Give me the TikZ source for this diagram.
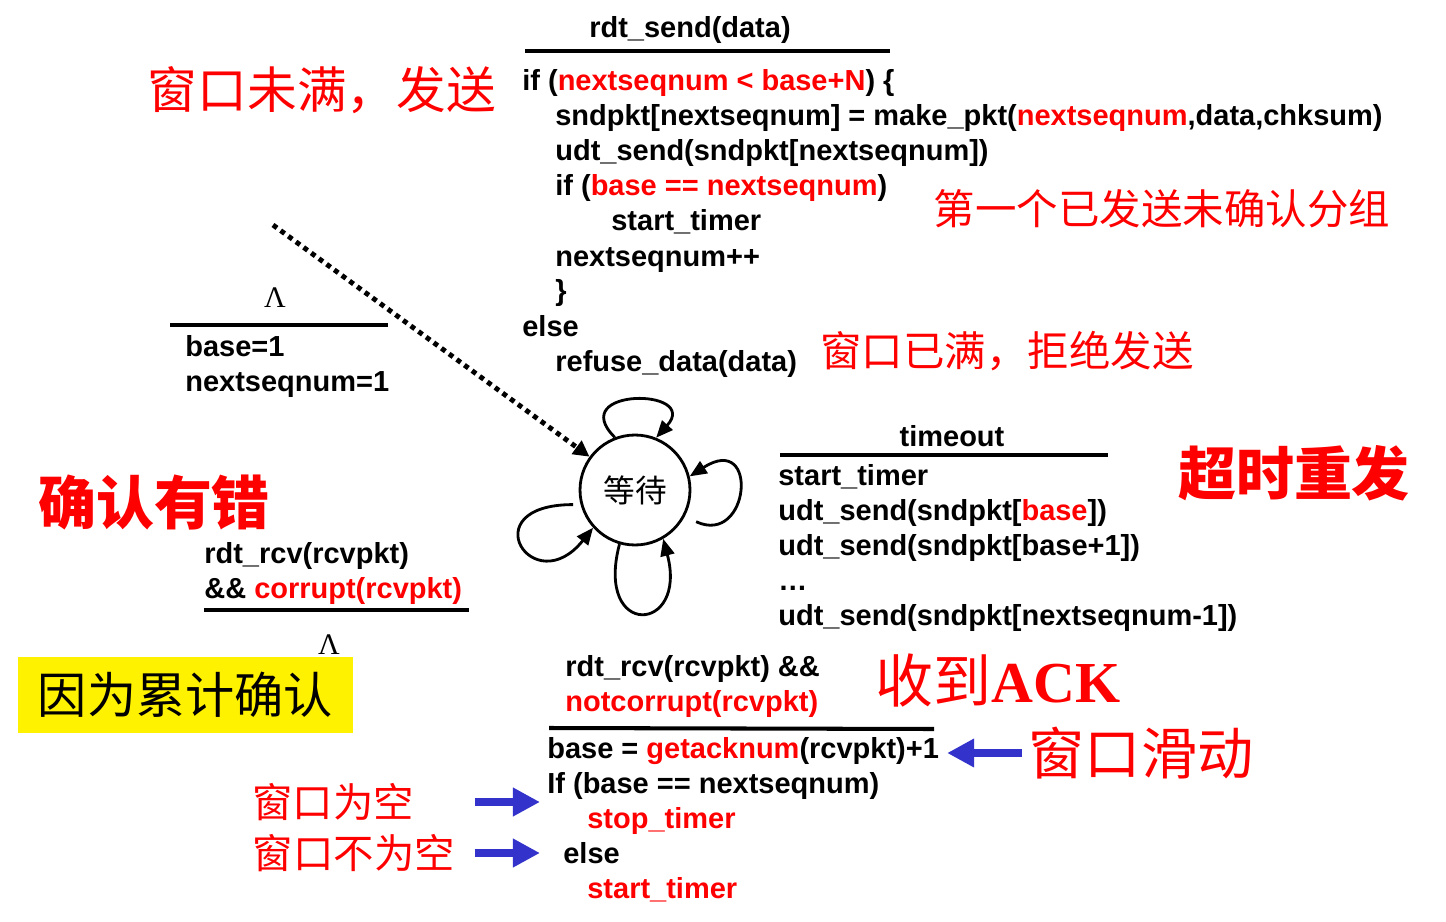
\documentclass[tikz,border=0pt]{standalone}
\usepackage{fontspec}
\setmainfont{Liberation Sans}
\newfontfamily\cjk{Noto Sans CJK SC}
\newfontfamily\timesb{Liberation Serif}
\usetikzlibrary{arrows.meta}
\definecolor{hired}{RGB}{255,0,0}
\definecolor{arrowblue}{RGB}{51,51,204}
\tikzset{
  code/.style={anchor=base west, inner sep=0pt, yshift=-0.04cm, font=\fontsize{16.5}{19}\selectfont\bfseries},
  hdr/.style={code, anchor=base},
  note/.style={text=hired, inner sep=0pt, font=\cjk\fontsize{23.6}{28}\selectfont},
  bignote/.style={note, font=\cjk\fontsize{28.3}{34}\selectfont},
  boldnote/.style={note, font=\cjk\bfseries\fontsize{33}{40}\selectfont},
  lam/.style={inner sep=0pt, font=\timesb\fontsize{17}{19}\selectfont},
  bar/.style={line width=1.8pt},
  state/.style={draw, circle, line width=1.6pt, minimum size=2.2cm, font=\cjk\fontsize{18}{20}\selectfont},
  selfloop/.style={line width=1.6pt, -{Triangle[length=3.4mm,width=2.8mm]}},
  dotarrow/.style={line width=2.8pt, dash pattern=on 2.8pt off 2.6pt, -{Triangle[length=3.2mm,width=3.2mm]}},
  bigarrow/.style={arrowblue, line width=4.5pt, -{Triangle[length=5.4mm,width=5.4mm]}},
}
\begin{document}
\begin{tikzpicture}[x=0.02cm, y=-0.02cm]
    \useasboundingbox (0,0) rectangle (1446,922);
    % state
    \node[state] (wait) at (635,490) {等待};
    \coordinate (dotstart) at (273,225);
    \draw[dotarrow] (dotstart) -- (wait);
    \draw[selfloop] (wait.111) .. controls +(-50,-50) and +(45,-50) .. (wait.68);
    \draw[selfloop, shorten <=2.5mm] (wait.-28) .. controls +(65,30) and +(70,-45) .. (wait.14);
    \draw[selfloop, shorten <=1.5mm] (wait.195) .. controls +(-110,0) and +(-60,75) .. (wait.222);
    \draw[selfloop] (wait.254) .. controls +(-25,95) and +(25,95) .. (wait.300);
    % init
    \node[lam] (lam1) at (275,298) {Λ};
    \draw[bar] (170,325) -- (388,325);
    \node[code] (init1) at (185,354) {base=1};
    \node[code] (init2) at (185,389) {nextseqnum=1};
    % send
    \node[hdr] (sendev) at (690,36) {rdt\_send(data)};
    \draw[bar, line width=2.3pt] (525,51) -- (890,51);
    \node[code] (s1) at (522,89) {if ({\color{hired}nextseqnum < base+N}) \{};
    \node[code] (s2) at (555,124) {sndpkt[nextseqnum] = make\_pkt({\color{hired}nextseqnum},data,chksum)};
    \node[code] (s3) at (555,159) {udt\_send(sndpkt[nextseqnum])};
    \node[code] (s4) at (555,194) {if ({\color{hired}base == nextseqnum})};
    \node[code] (s5) at (611,229) {start\_timer};
    \node[code] (s6) at (555,264) {nextseqnum++};
    \node[code] (s7) at (555,299) {\}};
    \node[code] (s8) at (522,334) {else};
    \node[code] (s9) at (555,369) {refuse\_data(data)};
    % timeout
    \node[hdr] (toev) at (952,444) {timeout};
    \draw[bar] (780,455) -- (1108,455);
    \node[code] (t1) at (778,483) {start\_timer};
    \node[code] (t2) at (778,518) {udt\_send(sndpkt[{\color{hired}base}])};
    \node[code] (t3) at (778,553) {udt\_send(sndpkt[base+1])};
    \node[code] (t4) at (778,588) {…};
    \node[code] (t5) at (778,623) {udt\_send(sndpkt[nextseqnum-1])};
    % corrupt
    \node[code] (c1) at (204,561) {rdt\_rcv(rcvpkt)};
    \node[code] (c2) at (204,596) {\&\& {\color{hired}corrupt(rcvpkt)}};
    \draw[bar] (204,610) -- (469,610);
    \node[lam] (lam2) at (329,645) {Λ};
    % ack
    \node[code] (a1) at (565,674) {rdt\_rcv(rcvpkt) \&\&};
    \node[code] (a2) at (565,709) {\color{hired}notcorrupt(rcvpkt)};
    \draw[bar, line width=2.3pt] (549,728) -- (934,729);
    \node[code] (r1) at (547,756) {base = {\color{hired}getacknum}(rcvpkt)+1};
    \node[code] (r2) at (547,791) {If (base == nextseqnum)};
    \node[code, text=hired] (r3) at (587,826) {stop\_timer};
    \node[code] (r4) at (563,861) {else};
    \node[code, text=hired] (r5) at (587,896) {start\_timer};
    % notes
    \node[bignote] (n1) at (322,90) {窗口未满，发送};
    \node[note] (n2) at (1162,209) {第一个已发送未确认分组};
    \node[note] (n3) at (1007,351) {窗口已满，拒绝发送};
    \node[boldnote] (n4) at (1294,473) {超时重发};
    \node[boldnote] (n5) at (154,502) {确认有错};
    \node[fill=yellow, minimum width=6.7cm, minimum height=1.52cm, font=\cjk\fontsize{28}{34}\selectfont] (n6) at (185.5,695) {因为累计确认};
    \node[note, font=\cjk\fontsize{33}{40}\selectfont] (n7) at (998,680) {收到{\timesb\bfseries ACK}};
    \node[note, font=\cjk\fontsize{32}{38}\selectfont] (n8) at (1141,753) {窗口滑动};
    \node[note, font=\cjk\fontsize{23}{28}\selectfont] (n9) at (333,802) {窗口为空};
    \node[note, font=\cjk\fontsize{23}{28}\selectfont] (n10) at (354,853) {窗口不为空};
    \draw[bigarrow, shorten >=4.5pt] (n8.west) ++(-6,0) -- (r1.east |- n8.west);
    \draw[bigarrow, shorten <=11pt, shorten >=4pt] (n10.east |- n9.east) -- (n9.east -| r2.west);
    \draw[bigarrow, shorten <=11pt, shorten >=4pt] (n10.east) -- (n10.east -| r2.west);
  \end{tikzpicture}
\end{document}
